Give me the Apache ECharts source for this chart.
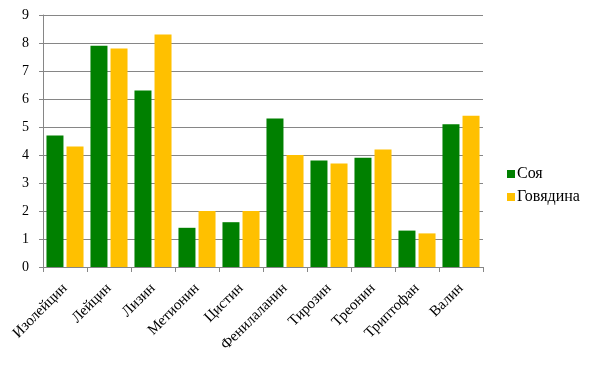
<!DOCTYPE html>
<html>
<head>
<meta charset="utf-8">
<script src="https://cdn.jsdelivr.net/npm/echarts@6/dist/echarts.min.js"></script>
<style>
  html, body { margin: 0; padding: 0; background: #fff; }
  #chart { width: 594px; height: 365px; }
</style>
</head>
<body>
<div id="chart"></div>
<script>
const categories = ["Изолейцин", "Лейцин", "Лизин", "Метионин", "Цистин", "Фенилаланин", "Тирозин", "Треонин", "Триптофан", "Валин"];
const soy = [4.7, 7.9, 6.3, 1.4, 1.6, 5.3, 3.8, 3.9, 1.3, 5.1];
const beef = [4.3, 7.8, 8.3, 2.0, 2.0, 4.0, 3.7, 4.2, 1.2, 5.4];
const seriesNames = ["Соя", "Говядина"];

const font = "Liberation Serif, DejaVu Serif, serif";
const chart = echarts.init(document.getElementById("chart"));
chart.setOption({
  animation: false,
  textStyle: { fontFamily: font },
  grid: { left: 43, right: 111, top: 15, bottom: 98 },
  legend: {
    orient: "vertical",
    left: 502,
    top: 161,
    itemWidth: 8,
    itemHeight: 8,
    itemGap: 7,
    icon: "rect",
    textStyle: { fontFamily: font, fontSize: 16, color: "#000", padding: [0, 0, 0, -3] },
    data: seriesNames
  },
  xAxis: {
    type: "category",
    data: categories,
    axisLine: { lineStyle: { color: "#868686", width: 1 } },
    axisTick: { show: true, length: 5, lineStyle: { color: "#868686" } },
    axisLabel: { rotate: 45, fontFamily: font, fontSize: 15, color: "#000", margin: 19, interval: 0 }
  },
  yAxis: {
    type: "value",
    min: 0,
    max: 9,
    interval: 1,
    axisLine: { show: true, lineStyle: { color: "#868686" } },
    axisTick: { show: true, length: 4, lineStyle: { color: "#868686" } },
    axisLabel: { fontFamily: font, fontSize: 14, color: "#000", margin: 14 },
    splitLine: { lineStyle: { color: "#868686", width: 1 } }
  },
  series: [
    {
      name: seriesNames[0],
      type: "bar",
      data: soy,
      barWidth: 17,
      barGap: "18%",
      itemStyle: { color: "#008000" }
    },
    {
      name: seriesNames[1],
      type: "bar",
      data: beef,
      barWidth: 17,
      itemStyle: { color: "#FFC000" }
    }
  ]
});
</script>
</body>
</html>
